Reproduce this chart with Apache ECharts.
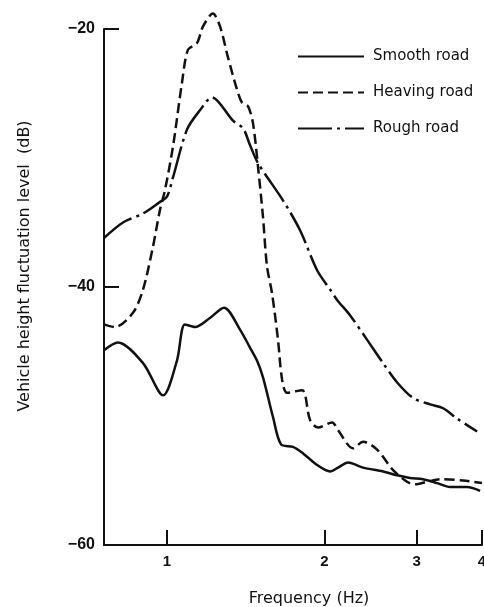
<!DOCTYPE html>
<html>
<head>
<meta charset="utf-8">
<script src="https://cdn.jsdelivr.net/npm/echarts@6/dist/echarts.min.js"></script>
<style>
html,body{margin:0;padding:0;background:#fff;overflow:hidden;width:484px;height:607px;}
#chart{width:484px;height:607px;position:absolute;left:0;top:0;}
</style>
</head>
<body>
<div id="chart"></div>
<script>
var xTicks = [1, 2, 3, 4];
var yTicks = [-60, -40, -20];

var smoothFreq = [0.758,0.806,0.900,0.983,1.045,1.082,1.131,1.208,1.285,1.379,1.441,1.486,1.526,1.595,1.652,1.741,1.820,1.936,2.050,2.123,2.219,2.371,2.588,2.754,2.914,3.086,3.283,3.477,3.747,3.967];
var smoothLevel = [-44.9,-44.3,-45.9,-48.4,-45.7,-42.9,-43.1,-42.4,-41.6,-43.3,-44.7,-45.7,-47.0,-50.1,-52.2,-52.4,-52.9,-53.8,-54.3,-54.0,-53.6,-54.0,-54.3,-54.6,-54.8,-54.9,-55.2,-55.5,-55.5,-55.8];

var heavingFreq = [0.758,0.795,0.861,0.900,0.940,0.970,0.991,1.027,1.068,1.097,1.141,1.172,1.224,1.263,1.308,1.361,1.391,1.429,1.460,1.493,1.526,1.553,1.588,1.630,1.660,1.696,1.812,1.877,1.944,2.068,2.123,2.268,2.371,2.521,2.705,2.876,2.980,3.141,3.327,3.681,4.0];
var heavingLevel = [-42.9,-43.1,-42.0,-40.2,-36.9,-34.0,-32.5,-29.1,-24.2,-21.6,-21.1,-19.8,-18.8,-19.8,-22.2,-24.7,-25.7,-26.0,-27.3,-30.7,-34.6,-38.4,-40.5,-44.1,-47.2,-48.2,-48.0,-50.3,-50.9,-50.5,-51.1,-52.5,-52.0,-52.6,-54.2,-55.1,-55.3,-55.1,-54.9,-55.0,-55.2];

var roughFreq = [0.758,0.824,0.900,0.970,1.000,1.027,1.092,1.156,1.219,1.337,1.398,1.441,1.493,1.667,1.796,1.936,2.050,2.114,2.239,2.413,2.588,2.754,2.953,3.184,3.372,3.585,3.915];
var roughLevel = [-36.2,-35.0,-34.3,-33.4,-33.0,-31.5,-27.8,-26.3,-25.3,-27.1,-27.7,-29.0,-30.4,-33.3,-35.6,-38.7,-40.2,-41.0,-42.2,-44.1,-45.9,-47.4,-48.6,-49.1,-49.4,-50.2,-51.2];

var seriesNames = ['Smooth road', 'Heaving road', 'Rough road'];

function pairs(xs, ys) { return xs.map(function (x, i) { return [x, ys[i]]; }); }

var chart = echarts.init(document.getElementById('chart'), null, {renderer: 'canvas', width: 484, height: 607});
var ink = '#111';
var tickFont = 'Liberation Sans, Arial, sans-serif';
var textFont = 'DejaVu Sans, sans-serif';

chart.setOption({
  animation: false,
  backgroundColor: '#fff',
  grid: {left: 104, right: 2, top: 29, bottom: 62, containLabel: false, outerBoundsMode: 'none'},
  legend: {
    orient: 'vertical',
    left: 292,
    top: 44,
    itemWidth: 66,
    itemHeight: 14,
    itemGap: 21,
    itemStyle: {opacity: 0},
    textStyle: {color: ink, fontSize: 15, fontFamily: textFont, padding: [0, 0, 0, 4]},
    data: seriesNames
  },
  xAxis: {
    type: 'log',
    logBase: 10,
    min: 0.758,
    max: 4,
    name: 'Frequency (Hz)',
    nameLocation: 'middle',
    nameGap: 46,
    nameTextStyle: {color: ink, fontSize: 16, fontFamily: textFont, padding: [0, 0, 0, 32]},
    axisLine: {show: true, lineStyle: {color: ink, width: 2}},
    axisTick: {show: true, inside: true, length: 15, lineStyle: {color: ink, width: 2}, customValues: xTicks},
    axisLabel: {color: ink, fontSize: 15, fontWeight: 'bold', fontFamily: tickFont, margin: 9, customValues: xTicks,
      formatter: function (v) { return String(Math.round(v)); }},
    minorTick: {show: false},
    splitLine: {show: false}
  },
  yAxis: {
    type: 'value',
    min: -60,
    max: -20,
    interval: 20,
    name: 'Vehicle height fluctuation level  (dB)',
    nameLocation: 'middle',
    nameGap: 71,
    nameTextStyle: {color: ink, fontSize: 16, fontFamily: textFont, padding: [0, 0, 0, 42]},
    axisLine: {show: true, lineStyle: {color: ink, width: 2}},
    axisTick: {show: true, inside: true, length: 15, lineStyle: {color: ink, width: 2}},
    axisLabel: {color: ink, fontSize: 16, fontWeight: 'bold', fontFamily: tickFont, margin: 9,
      formatter: function (v) { return String(v).replace('-', '\u2212'); }},
    splitLine: {show: false}
  },
  series: [
    {
      name: seriesNames[0], type: 'line', data: pairs(smoothFreq, smoothLevel),
      smooth: 0.3, symbol: 'none', showSymbol: false, clip: false,
      lineStyle: {color: ink, width: 2.5, type: 'solid'}, itemStyle: {color: ink}
    },
    {
      name: seriesNames[1], type: 'line', data: pairs(heavingFreq, heavingLevel),
      smooth: 0.3, symbol: 'none', showSymbol: false, clip: false,
      lineStyle: {color: ink, width: 2.5, type: [10, 5]}, itemStyle: {color: ink}
    },
    {
      name: seriesNames[2], type: 'line', data: pairs(roughFreq, roughLevel),
      smooth: 0.3, symbol: 'none', showSymbol: false, clip: false,
      lineStyle: {color: ink, width: 2.5, type: [34, 5, 3, 5]}, itemStyle: {color: ink}
    }
  ]
});
</script>
</body>
</html>
